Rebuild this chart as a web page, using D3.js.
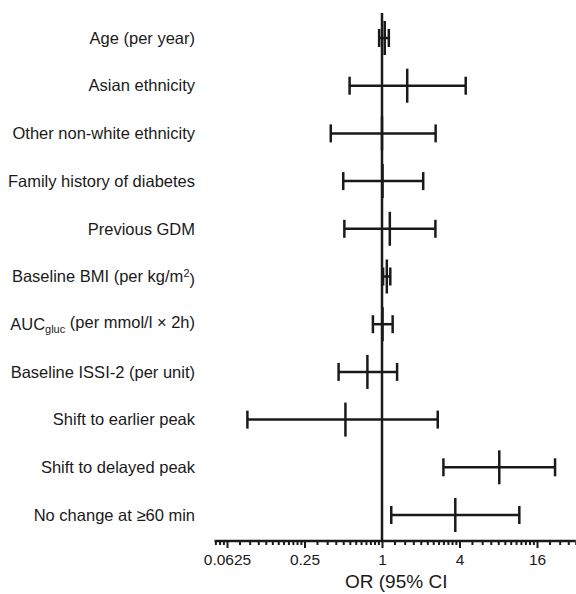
<!DOCTYPE html>
<html>
<head>
<meta charset="utf-8">
<script src="https://cdn.jsdelivr.net/npm/d3@7"></script>
<style>
  html, body { margin: 0; padding: 0; background: #fff; }
  svg text { font-family: "Liberation Sans", Arial, Helvetica, sans-serif; fill: #1a1a1a; }
</style>
</head>
<body>
<svg id="chart" width="576" height="594"></svg>
<script>
const categories = [
  "Age (per year)",
  "Asian ethnicity",
  "Other non-white ethnicity",
  "Family history of diabetes",
  "Previous GDM",
  "Baseline BMI (per kg/m²)",
  "AUCgluc (per mmol/l × 2h)",
  "Baseline ISSI-2 (per unit)",
  "Shift to earlier peak",
  "Shift to delayed peak",
  "No change at ≥60 min"
];
const orValues = [1.05, 1.57, 1.00, 1.01, 1.15, 1.09, 1.01, 0.77, 0.52, 8.15, 3.71];
const lowerCI  = [0.95, 0.56, 0.40, 0.50, 0.51, 1.02, 0.85, 0.46, 0.09, 3.00, 1.18];
const upperCI  = [1.13, 4.47, 2.61, 2.09, 2.60, 1.16, 1.21, 1.31, 2.71, 22.1, 11.66];
const tickValues = [0.0625, 0.25, 1, 4, 16];
const tickLabels = ["0.0625", "0.25", "1", "4", "16"];
const xTitle = "OR (95% CI";

const svg = d3.select("#chart");
const ink = "#1a1a1a";
const perLog2 = 38.75, x1 = 382;
const xDomain = [0.05, 32];
const x = d3.scaleLog().base(2).domain(xDomain)
  .range([x1 + Math.log2(xDomain[0]) * perLog2, x1 + Math.log2(xDomain[1]) * perLog2]);

const y = d3.scalePoint().domain(categories).range([38, 515]);
const axisY = 541;

// minor ticks: linear steps of a/4 inside each [a, 4a] interval
const minor = [];
for (let a = 0.015625; a < 64; a *= 4) {
  for (let k = 1; k < 12; k++) {
    const v = a * (1 + k * 0.25);
    if (v >= xDomain[0] && v <= xDomain[1] && !tickValues.includes(v)) minor.push(v);
  }
}

// axis
const gAxis = svg.append("g").attr("transform", `translate(0,${axisY})`);
const axisMajor = d3.axisBottom(x).tickValues(tickValues)
  .tickFormat((d, i) => tickLabels[i]).tickSize(7).tickPadding(6);
gAxis.call(axisMajor);
gAxis.select(".domain").attr("stroke", ink).attr("stroke-width", 2.5).attr("d", `M${x.range()[0]},0H${x.range()[1]}`);
gAxis.selectAll(".tick line").attr("stroke", ink).attr("stroke-width", 2);
gAxis.selectAll(".tick text").attr("font-size", 15.5).attr("fill", ink)
  .style("font-family", '"Liberation Sans", Arial, sans-serif');

const gMinor = svg.append("g").attr("transform", `translate(0,${axisY})`);
gMinor.call(d3.axisBottom(x).tickValues(minor).tickFormat("").tickSize(4));
gMinor.select(".domain").remove();
gMinor.selectAll(".tick line").attr("stroke", ink).attr("stroke-width", 2);

// title (closing parenthesis is cut off in the original; text starts left of centre)
svg.append("text").attr("x", x(1) - 37).attr("y", 588).attr("text-anchor", "start")
  .attr("font-size", 19).text(xTitle);

// reference line at OR = 1
svg.append("line").attr("x1", x(1)).attr("x2", x(1)).attr("y1", 13).attr("y2", axisY)
  .attr("stroke", ink).attr("stroke-width", 2.5);

// labels
const labelX = 195;
const lab = svg.append("g").selectAll("text").data(categories).join("text")
  .attr("x", labelX).attr("y", d => y(d)).attr("dy", "0.35em")
  .attr("text-anchor", "end").attr("font-size", 16.5);
lab.each(function(d) {
  const t = d3.select(this);
  if (d.startsWith("Baseline BMI")) {
    t.append("tspan").text("Baseline BMI (per kg/m");
    t.append("tspan").attr("dy", "-0.45em").attr("font-size", 11).text("2");
    t.append("tspan").attr("dy", "0.45em").text(")");
  } else if (d.startsWith("AUCgluc")) {
    t.append("tspan").text("AUC");
    t.append("tspan").attr("dy", "0.3em").attr("font-size", 11).text("gluc");
    t.append("tspan").attr("dy", "-0.3em").text(" (per mmol/l × 2h)");
  } else {
    t.text(d);
  }
});

// error bars
const rows = categories.map((c, i) => ({ c, or: orValues[i], lo: lowerCI[i], hi: upperCI[i] }));
const g = svg.append("g").attr("stroke", ink).attr("stroke-width", 2.5).attr("fill", "none");
const capH = 9, midH = 17;
g.selectAll("line.ci").data(rows).join("line").attr("class", "ci")
  .attr("x1", d => x(d.lo)).attr("x2", d => x(d.hi)).attr("y1", d => y(d.c)).attr("y2", d => y(d.c));
g.selectAll("line.lo").data(rows).join("line").attr("class", "lo")
  .attr("x1", d => x(d.lo)).attr("x2", d => x(d.lo)).attr("y1", d => y(d.c) - capH).attr("y2", d => y(d.c) + capH);
g.selectAll("line.hi").data(rows).join("line").attr("class", "hi")
  .attr("x1", d => x(d.hi)).attr("x2", d => x(d.hi)).attr("y1", d => y(d.c) - capH).attr("y2", d => y(d.c) + capH);
g.selectAll("line.mid").data(rows).join("line").attr("class", "mid")
  .attr("x1", d => x(d.or)).attr("x2", d => x(d.or)).attr("y1", d => y(d.c) - midH).attr("y2", d => y(d.c) + midH);
</script>
</body>
</html>
